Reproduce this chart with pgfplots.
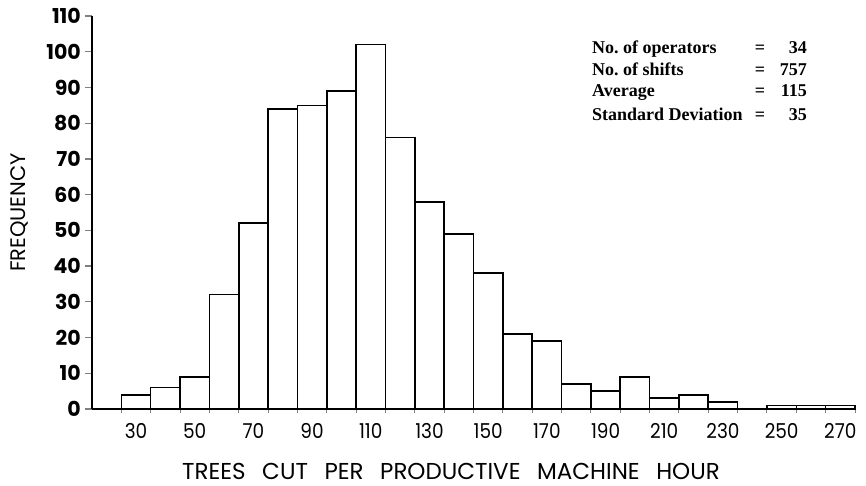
\documentclass[border=0pt]{standalone}
\usepackage{fontspec}
\usepackage{pgfplots}
\pgfplotsset{compat=1.18}
\newfontfamily\pop{Poppins}[FakeStretch=0.9]
\newfontfamily\popb{Poppins}
\newfontfamily\stat{Liberation Serif}
\begin{document}
\begin{tikzpicture}
\begin{axis}[
  scale only axis,
  width=763pt, height=393pt,
  xmin=15, xmax=275, ymin=0, ymax=110,
  axis lines=left,
  axis line style={-, line width=2.2pt},
  clip=false,
  ytick={0,10,...,110},
  xtick={30,50,...,270},
  minor xtick={25,35,...,275},
  tick align=outside,
  major tick length=7pt,
  minor tick length=7pt,
  every major x tick/.append style={draw=none},
  every minor x tick/.append style={yshift=3pt, line width=1pt},
  every major y tick/.append style={line width=1.2pt},
  /pgf/number format/assume math mode=true,
  yticklabel style={font=\popb\bfseries\fontsize{20.5}{22}\selectfont, anchor=east, inner sep=0pt, xshift=-4pt},
  xticklabel style={font=\pop\fontsize{20.5}{22}\selectfont, anchor=north, inner sep=0pt, yshift=-7pt},
  xlabel={TREES\hspace{0.72em}CUT\hspace{0.72em}PER\hspace{0.72em}PRODUCTIVE\hspace{0.72em}MACHINE\hspace{0.72em}HOUR},
  xlabel style={font=\popb\fontsize{23}{25}\selectfont, at={(rel axis cs:0.4705,0)}, anchor=base, yshift=-70pt, inner sep=0pt},
  ylabel={FREQUENCY},
  ylabel style={font=\popb\fontsize{21}{22}\selectfont, at={(rel axis cs:0,0.5)}, anchor=center, yshift=73pt, inner sep=0pt},
]
\addplot[ybar interval, fill=white, draw=black, line width=1.6pt] coordinates {
(25,4)(35,6)(45,9)(55,32)(65,52)(75,84)(85,85)(95,89)(105,102)(115,76)(125,58)(135,49)(145,38)(155,21)(165,19)(175,7)(185,5)(195,9)(205,3)(215,4)(225,2)(235,0)(245,1)(255,1)(265,1)(275,1)
};
\end{axis}
\begin{scope}[every node/.style={font=\stat\bfseries\fontsize{18}{20}\selectfont, inner sep=0pt}]
\node[anchor=base west] at (500pt,355pt) {No.\ of operators};
\node[anchor=base] at (668pt,355pt) {=};
\node[anchor=base east] at (715pt,355pt) {34};
\node[anchor=base west] at (500pt,333pt) {No.\ of shifts};
\node[anchor=base] at (668pt,333pt) {=};
\node[anchor=base east] at (715pt,333pt) {757};
\node[anchor=base west] at (500pt,312pt) {Average};
\node[anchor=base] at (668pt,312pt) {=};
\node[anchor=base east] at (715pt,312pt) {115};
\node[anchor=base west] at (500pt,288pt) {Standard Deviation};
\node[anchor=base] at (668pt,288pt) {=};
\node[anchor=base east] at (715pt,288pt) {35};
\end{scope}
\pgfresetboundingbox
\path[use as bounding box] (-92pt,-77pt) rectangle (774pt,409pt);
\end{tikzpicture}
\end{document}
